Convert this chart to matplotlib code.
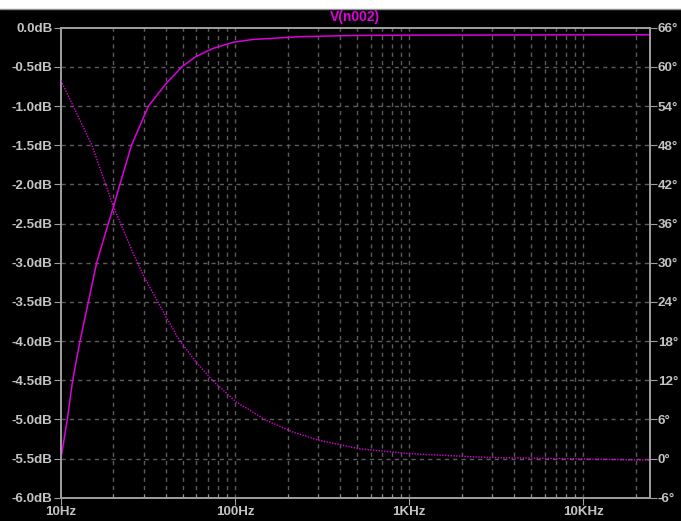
import numpy as np
import matplotlib
matplotlib.use("Agg")
import matplotlib.pyplot as plt
from matplotlib.patches import Rectangle
from matplotlib.lines import Line2D
from matplotlib.ticker import FixedLocator, NullFormatter

# Magnitude (dB)
mag_freq = [10, 10.87, 11.67, 12.86, 14.36, 16.03, 18.7, 20.0, 21.8, 25.4, 31.8,
            39.6, 49.4, 58.9, 73.5, 97.8, 127, 198, 237, 450, 1000, 24000]
mag_db = [-5.5, -5.0, -4.5, -4.0, -3.5, -3.0, -2.5, -2.29, -2.0, -1.5, -1.0,
          -0.73, -0.5, -0.375, -0.27, -0.185, -0.15, -0.125, -0.115, -0.10,
          -0.095, -0.09]

# Phase (degrees)
ph_freq = [10, 12.4, 15.1, 20.0, 26.9, 30.1, 40.1, 47.7, 59.6, 74, 101, 151,
           215, 305, 520, 1000, 2900, 7660, 24000]
ph_deg = [57.9, 52.7, 47.9, 38.6, 30.5, 27.8, 21.7, 18.2, 14.8, 12.0, 8.7,
          5.85, 4.05, 2.77, 1.49, 0.75, 0.15, 0.0, -0.25]

db_ticks = [0.0, -0.5, -1.0, -1.5, -2.0, -2.5, -3.0, -3.5, -4.0, -4.5, -5.0, -5.5, -6.0]
deg_ticks = [66, 60, 54, 48, 42, 36, 30, 24, 18, 12, 6, 0, -6]
f_ticks = [10, 100, 1000, 10000]
f_labels = ["10Hz", "100Hz", "1KHz", "10KHz"]

trace = "#dd00dd"
txt = "#c4c4c4"
spine = "#a0a0a0"
gridc = "#5c5c5c"
font = dict(family="Liberation Sans", fontsize=9.6, fontweight="bold", color=txt)

fig = plt.figure(figsize=(6.81, 5.21), dpi=100, facecolor="black")
ax = fig.add_axes([61 / 681, 1 - 497.7 / 521, 588.5 / 681, 470 / 521])
ax.set_facecolor("black")

# white window strip on top
fig.patches.append(Rectangle((0, 1 - 8 / 521), 1, 8 / 521, transform=fig.transFigure,
                             color="white", zorder=0))
fig.lines.append(Line2D([0, 1], [1 - 8.5 / 521] * 2, transform=fig.transFigure,
                        color="#909090", linewidth=1))

ax.set_xscale("log")
ax.set_xlim(10, 24000)
ax.set_ylim(-6, 0)

ax.plot(mag_freq, mag_db, color=trace, linewidth=1.1, zorder=3)

ax2 = ax.twinx()
ax2.set_ylim(-6, 66)
ax2.plot(ph_freq, ph_deg, color=trace, linewidth=1.0, linestyle=(0, (1, 1)), zorder=3)

# grid
minors = [m * 10 ** d for d in range(1, 5) for m in range(2, 10) if m * 10 ** d < 24000]
for f in f_ticks[1:] + minors:
    ax.axvline(f, color=gridc, linewidth=1, linestyle=(0, (3, 3)), zorder=1)
for v in db_ticks[1:-1]:
    ax.axhline(v, color=gridc, linewidth=1, linestyle=(0, (3, 3)), zorder=1)

ax.set_yticks(db_ticks)
ax.set_yticklabels([f"{v:.1f}dB" for v in db_ticks], **font)
ax.set_xticks(f_ticks)
ax.set_xticklabels(f_labels, **font)
ax.xaxis.set_minor_locator(FixedLocator(minors))
ax.xaxis.set_minor_formatter(NullFormatter())
ax2.set_yticks(deg_ticks)
ax2.set_yticklabels([f"{v}\u00b0" for v in deg_ticks], **font)

ax.tick_params(axis="y", direction="out", length=5, color=spine, pad=1)
ax.tick_params(axis="x", which="major", direction="out", length=5, color=spine, pad=1)
ax.tick_params(axis="x", which="minor", direction="in", length=3, color=spine)
ax2.tick_params(axis="y", direction="out", length=5, color=spine, pad=1)

for a in (ax, ax2):
    for s in a.spines.values():
        s.set_color(spine)
        s.set_linewidth(1.2)

fig.text(355 / 681, 1 - 17 / 521, "V(n002)", ha="center", va="center",
         family="Liberation Sans", fontsize=10, fontweight="bold", color="#e000e0")

fig.savefig("out.png", dpi=100, facecolor="black")
